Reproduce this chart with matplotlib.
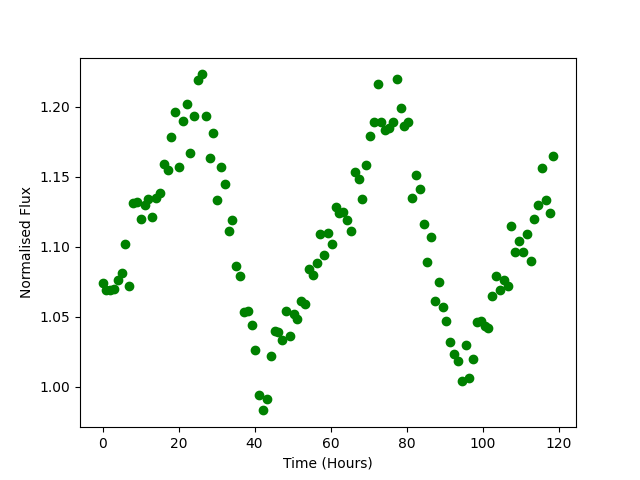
import numpy as np
import matplotlib
matplotlib.use("Agg")
from matplotlib import pyplot as plt

# Normalised flux, evenly spaced in time
flux = [
    1.074, 1.069, 1.069, 1.070, 1.076, 1.081, 1.102, 1.072, 1.131, 1.132,
    1.120, 1.130, 1.134, 1.121, 1.135, 1.138, 1.159, 1.155, 1.178, 1.196,
    1.157, 1.190, 1.202, 1.167, 1.193, 1.219, 1.223, 1.193, 1.163, 1.181,
    1.133, 1.157, 1.145, 1.111, 1.119, 1.086, 1.079, 1.053, 1.054, 1.044,
    1.026, 0.994, 0.983, 0.991, 1.022, 1.040, 1.039, 1.033, 1.054, 1.036,
    1.052, 1.048, 1.061, 1.059, 1.084, 1.080, 1.088, 1.109, 1.094, 1.110,
    1.102, 1.128, 1.124, 1.125, 1.119, 1.111, 1.153, 1.148, 1.134, 1.158,
    1.179, 1.189, 1.216, 1.189, 1.183, 1.185, 1.189, 1.220, 1.199, 1.186,
    1.189, 1.135, 1.151, 1.141, 1.116, 1.089, 1.107, 1.061, 1.075, 1.057,
    1.047, 1.032, 1.023, 1.018, 1.004, 1.030, 1.006, 1.020, 1.046, 1.047,
    1.043, 1.042, 1.065, 1.079, 1.069, 1.076, 1.072, 1.115, 1.096, 1.104,
    1.096, 1.109, 1.090, 1.120, 1.130, 1.156, 1.133, 1.124, 1.165,
]
t_start = 0.0
t_end = 118.65  # time of the last reading, in hours
hours = np.linspace(t_start, t_end, len(flux))

plt.figure(figsize=(6.4, 4.8), dpi=100)
plt.plot(hours, flux, 'o', color='green')
plt.xlabel("Time (Hours)")
plt.ylabel("Normalised Flux")
plt.savefig("out.png")
